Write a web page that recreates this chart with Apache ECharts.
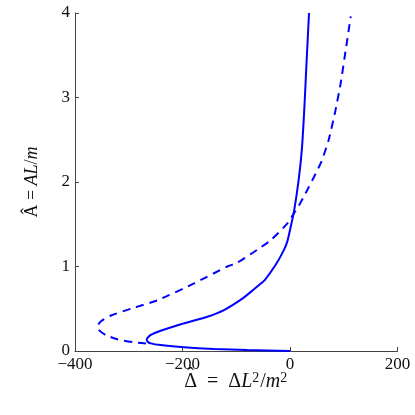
<!DOCTYPE html>
<html>
<head>
<meta charset="utf-8">
<script src="https://cdn.jsdelivr.net/npm/echarts@6/dist/echarts.min.js"></script>
<style>
  html, body { margin: 0; padding: 0; background: #fff; }
  #main { width: 415px; height: 415px; }
</style>
</head>
<body>
<div id="main"></div>
<script>
// x ticks / y ticks
var xTicks = [-400, -200, 0, 200]
var yTicks = [0, 1, 2, 3, 4]

// solid curve: [Delta, A]
var solidDelta = [0, -80, -141, -197, -240.6, -259, -265, -266.6, -259, -240.6, -203, -153.7, -122.8, -88.6, -67, -57.7, -47, -26.6, -11, -4.8, 1.3, 7.4, 16, 22, 26.5, 31, 35.4]
var solidA = [0, 0.012, 0.024, 0.044, 0.07, 0.09, 0.11, 0.138, 0.19, 0.24, 0.316, 0.406, 0.485, 0.62, 0.73, 0.78, 0.84, 1.02, 1.2, 1.3, 1.47, 1.65, 2.02, 2.38, 2.85, 3.44, 4.0]

// dashed curve
var dashDelta = [-268, -290, -321, -343, -356, -358.3, -352, -333, -296, -246.7, -178.6, -116.5, -98, -60.6, -36, -4.8, 7.4, 13.8, 26, 35, 44.6, 59, 72, 84, 94.3, 103.6, 113]
var dashA = [0.09, 0.103, 0.138, 0.19, 0.25, 0.29, 0.35, 0.42, 0.5, 0.6, 0.8, 1.0, 1.045, 1.2, 1.31, 1.51, 1.63, 1.69, 1.83, 1.94, 2.06, 2.25, 2.5, 2.83, 3.17, 3.56, 3.96]

function pairs(xs, ys){
    var out = []
    for(let i = 0; i < xs.length; i++){
        out.push([xs[i], ys[i]])
    }
    return out
}

var serif = '"Liberation Serif", "DejaVu Serif", serif'
var axisColor = '#444'
var txt = '#111'

// x axis title drawn as graphic text so the hat can sit over the Delta
var fs = 20, fsSup = 14
var ctx = document.createElement('canvas').getContext('2d')
function tw(t, style, size){
    ctx.font = style + ' ' + size + 'px ' + serif
    return ctx.measureText(t).width
}
var eqSp = '\u2002=\u2002'
var wDelta = tw('\u0394', 'normal', fs)
var xNameW = wDelta + tw(eqSp, 'normal', fs) + tw('\u0394', 'normal', fs) + tw('L', 'italic', fs)
    + tw('2', 'normal', fsSup) + 1 + tw('/', 'normal', fs) + tw('m', 'italic', fs) + tw('2', 'normal', fsSup) + 1
var xNameCx = 236.25, xNameCy = 382
var xNameLeft = xNameCx - xNameW / 2

var myChart = echarts.init(document.getElementById('main'))
var option = {
    animation: false,
    grid: { left: 75, right: 17.5, top: 13, bottom: 64 },
    xAxis: {
        type: 'value',
        min: xTicks[0],
        max: xTicks[xTicks.length - 1],
        interval: 200,
        splitLine: { show: false },
        axisLine: { onZero: false, lineStyle: { color: axisColor, width: 1 } },
        axisTick: { inside: true, length: 4, lineStyle: { color: axisColor } },
        axisLabel: {
            color: txt, fontFamily: serif, fontSize: 17, margin: 5,
            formatter: function(v){ return String(v).replace('-', '\u2212') }
        }
    },
    yAxis: {
        type: 'value',
        min: yTicks[0],
        max: yTicks[yTicks.length - 1],
        interval: 1,
        splitLine: { show: false },
        axisLine: { onZero: false, lineStyle: { color: axisColor, width: 1 } },
        axisTick: { inside: true, length: 4, lineStyle: { color: axisColor } },
        axisLabel: { color: txt, fontFamily: serif, fontSize: 17, margin: 5 },
        name: '{n|A\u0302 = }{i|AL}{n|/}{i|m}',
        nameLocation: 'middle',
        nameGap: 34,
        nameRotate: 90,
        nameTextStyle: {
            rich: {
                n: { fontFamily: serif, fontSize: 18, color: txt },
                i: { fontFamily: serif, fontSize: 18, fontStyle: 'italic', color: txt }
            }
        }
    },
    graphic: [
        {
            type: 'text',
            x: xNameLeft,
            y: xNameCy,
            style: {
                text: '{n|\u0394' + eqSp + '\u0394}{i|L}{s|2}{n|/}{i|m}{s|2}',
                align: 'left',
                verticalAlign: 'middle',
                rich: {
                    n: { fontFamily: serif, fontSize: fs, fill: txt },
                    i: { fontFamily: serif, fontSize: fs, fontStyle: 'italic', fill: txt },
                    s: { fontFamily: serif, fontSize: fsSup, fill: txt, verticalAlign: 'top', padding: [0, 1, 8, 0] }
                }
            }
        },
        {
            type: 'text',
            x: xNameLeft + wDelta / 2,
            y: xNameCy - 5,
            style: {
                text: '\u02C6',
                fontFamily: serif,
                fontSize: fs,
                fill: txt,
                align: 'center',
                verticalAlign: 'middle'
            }
        }
    ],
    series: [
        {
            type: 'line',
            data: pairs(solidDelta, solidA),
            showSymbol: false,
            smooth: 0.2,
            lineStyle: { color: '#0000ff', width: 2 }
        },
        {
            type: 'line',
            data: pairs(dashDelta, dashA),
            showSymbol: false,
            smooth: 0.2,
            lineStyle: { color: '#0000ff', width: 2, type: [8, 6] }
        }
    ]
}
myChart.setOption(option)
</script>
</body>
</html>
